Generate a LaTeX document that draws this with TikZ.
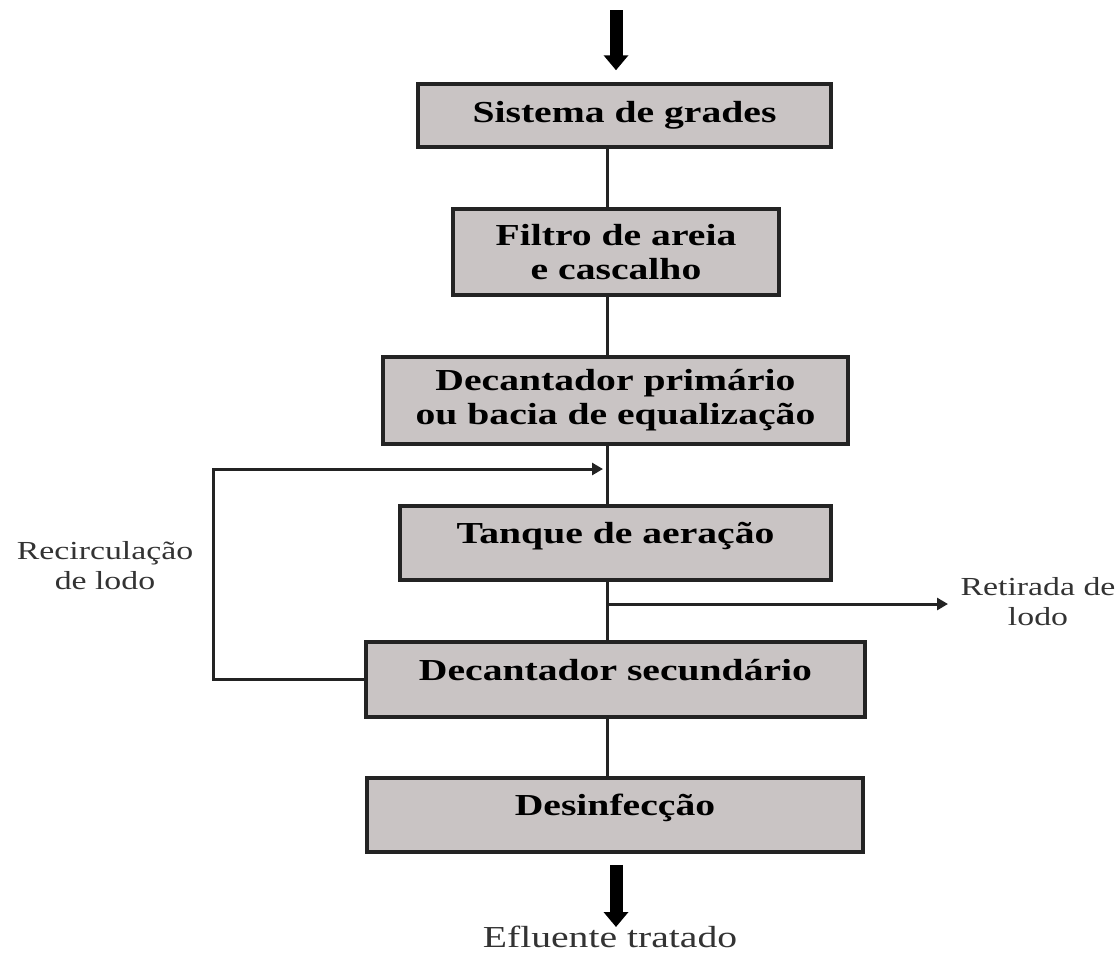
\documentclass[tikz,border=0pt]{standalone}
\usepackage{fontspec}
\setmainfont{Liberation Serif}[FakeStretch=1.3]
\usetikzlibrary{arrows.meta}

\definecolor{boxgray}{RGB}{201,196,196}
\definecolor{edgegray}{RGB}{35,35,35}

\begin{document}
\begin{tikzpicture}[x=1pt, y=-1pt,
    stage/.style={draw=edgegray, line width=3.5pt, fill=boxgray, inner sep=0pt,
        align=center, font=\fontsize{30.5}{34}\selectfont\bfseries},
    toptext/.style={text height=21pt, text depth=20pt},
    pipe/.style={line width=3pt, draw=edgegray},
    flow/.style={line width=13pt, -{Triangle[length=15pt,width=24pt]}},
    smallarrow/.style={pipe, -{Triangle[length=11pt,width=12pt]}},
    note/.style={align=center, font=\fontsize{26}{30}\selectfont, text=black!80}]
    \useasboundingbox (0,0) rectangle (1119,956);

    \coordinate (spine) at (607,0);
    \coordinate (inlet) at (616,10);
    \coordinate (outlet) at (616,927);
    \coordinate (recycle) at (607,469);
    \coordinate (loopcorner) at (213,469);
    \coordinate (split) at (607,604);
    \coordinate (waste) at (948,604);

    % Process stages
    \node[stage, minimum width=413pt, minimum height=63pt] (grades) at (624.5,115.5) {Sistema de grades};
    \node[stage, minimum width=326pt, minimum height=86pt] (filtro) at (616,252) {Filtro de areia\\e cascalho};
    \node[stage, minimum width=465pt, minimum height=87pt] (primario) at (615.5,400.5) {Decantador primário\\ou bacia de equalização};
    \node[stage, toptext, minimum width=431pt, minimum height=74pt] (aeracao) at (615.5,543) {Tanque de aeração};
    \node[stage, toptext, minimum width=499pt, minimum height=75pt] (secundario) at (615.5,679.5) {Decantador secundário};
    \node[stage, toptext, minimum width=496pt, minimum height=74pt] (desinfeccao) at (615,815) {Desinfecção};

    % Main line
    \foreach \a/\b in {grades/filtro, filtro/primario, primario/aeracao, aeracao/secundario, secundario/desinfeccao} {
        \draw[pipe] (\a.south -| spine) -- (\b.north -| spine);
    }

    % Inflow and outflow
    \draw[flow, shorten >=12pt] (inlet) -- (inlet |- grades.north);
    \draw[flow, shorten <=11pt] (desinfeccao.south -| outlet) -- (outlet);
    \node[font=\fontsize{30.5}{34}\selectfont, text=black!80, anchor=base] (efluente) at (610,947) {Efluente tratado};

    % Sludge lines
    \draw[smallarrow, shorten >=4pt] (secundario.west) -| (loopcorner) -- (recycle);
    \draw[smallarrow] (split) -- (waste);
    \node[note] (recirclabel) at (105,566) {Recirculação\\de lodo};
    \node[note] (retiradalabel) at (1038,602) {Retirada de\\lodo};
\end{tikzpicture}
\end{document}
